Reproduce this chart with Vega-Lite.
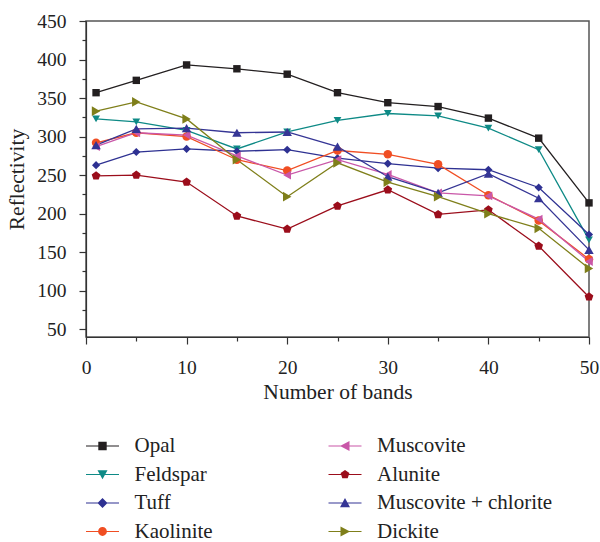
{
  "$schema": "https://vega.github.io/schema/vega-lite/v6.json",
  "width": 503,
  "height": 316,
  "autosize": {"type": "none"},
  "padding": {"left": 86, "top": 21, "right": 11, "bottom": 205},
  "config": {
    "font": "Liberation Serif",
    "view": {"stroke": "#555", "strokeWidth": 1.5},
    "axis": {"domainColor": "#333", "tickColor": "#333", "labelColor": "#222", "titleColor": "#222", "labelFont": "Liberation Serif", "titleFont": "Liberation Serif", "titleFontWeight": "normal", "grid": false},
    "legend": {"labelFont": "Liberation Serif", "labelColor": "#222", "labelLimit": 0}
  },
  "data": {
    "values": [
      {"band": 1, "mineral": "Opal", "value": 357}, {"band": 5, "mineral": "Opal", "value": 373}, {"band": 10, "mineral": "Opal", "value": 393}, {"band": 15, "mineral": "Opal", "value": 388}, {"band": 20, "mineral": "Opal", "value": 381}, {"band": 25, "mineral": "Opal", "value": 357}, {"band": 30, "mineral": "Opal", "value": 344}, {"band": 35, "mineral": "Opal", "value": 339}, {"band": 40, "mineral": "Opal", "value": 324}, {"band": 45, "mineral": "Opal", "value": 298}, {"band": 50, "mineral": "Opal", "value": 214},
      {"band": 1, "mineral": "Feldspar", "value": 323}, {"band": 5, "mineral": "Feldspar", "value": 319}, {"band": 10, "mineral": "Feldspar", "value": 308}, {"band": 15, "mineral": "Feldspar", "value": 284}, {"band": 20, "mineral": "Feldspar", "value": 306}, {"band": 25, "mineral": "Feldspar", "value": 321}, {"band": 30, "mineral": "Feldspar", "value": 330}, {"band": 35, "mineral": "Feldspar", "value": 327}, {"band": 40, "mineral": "Feldspar", "value": 311}, {"band": 45, "mineral": "Feldspar", "value": 283}, {"band": 50, "mineral": "Feldspar", "value": 166},
      {"band": 1, "mineral": "Tuff", "value": 263}, {"band": 5, "mineral": "Tuff", "value": 280}, {"band": 10, "mineral": "Tuff", "value": 284}, {"band": 15, "mineral": "Tuff", "value": 281}, {"band": 20, "mineral": "Tuff", "value": 283}, {"band": 25, "mineral": "Tuff", "value": 272}, {"band": 30, "mineral": "Tuff", "value": 265}, {"band": 35, "mineral": "Tuff", "value": 259}, {"band": 40, "mineral": "Tuff", "value": 257}, {"band": 45, "mineral": "Tuff", "value": 234}, {"band": 50, "mineral": "Tuff", "value": 173},
      {"band": 1, "mineral": "Kaolinite", "value": 292}, {"band": 5, "mineral": "Kaolinite", "value": 305}, {"band": 10, "mineral": "Kaolinite", "value": 300}, {"band": 15, "mineral": "Kaolinite", "value": 270}, {"band": 20, "mineral": "Kaolinite", "value": 256}, {"band": 25, "mineral": "Kaolinite", "value": 282}, {"band": 30, "mineral": "Kaolinite", "value": 277}, {"band": 35, "mineral": "Kaolinite", "value": 264}, {"band": 40, "mineral": "Kaolinite", "value": 224}, {"band": 45, "mineral": "Kaolinite", "value": 191}, {"band": 50, "mineral": "Kaolinite", "value": 141},
      {"band": 1, "mineral": "Muscovite", "value": 287}, {"band": 5, "mineral": "Muscovite", "value": 305}, {"band": 10, "mineral": "Muscovite", "value": 302}, {"band": 15, "mineral": "Muscovite", "value": 275}, {"band": 20, "mineral": "Muscovite", "value": 250}, {"band": 25, "mineral": "Muscovite", "value": 270}, {"band": 30, "mineral": "Muscovite", "value": 251}, {"band": 35, "mineral": "Muscovite", "value": 227}, {"band": 40, "mineral": "Muscovite", "value": 223}, {"band": 45, "mineral": "Muscovite", "value": 193}, {"band": 50, "mineral": "Muscovite", "value": 138},
      {"band": 1, "mineral": "Alunite", "value": 249}, {"band": 5, "mineral": "Alunite", "value": 250}, {"band": 10, "mineral": "Alunite", "value": 241}, {"band": 15, "mineral": "Alunite", "value": 197}, {"band": 20, "mineral": "Alunite", "value": 180}, {"band": 25, "mineral": "Alunite", "value": 210}, {"band": 30, "mineral": "Alunite", "value": 231}, {"band": 35, "mineral": "Alunite", "value": 199}, {"band": 40, "mineral": "Alunite", "value": 205}, {"band": 45, "mineral": "Alunite", "value": 158}, {"band": 50, "mineral": "Alunite", "value": 92},
      {"band": 1, "mineral": "Muscovite + chlorite", "value": 289}, {"band": 5, "mineral": "Muscovite + chlorite", "value": 310}, {"band": 10, "mineral": "Muscovite + chlorite", "value": 311}, {"band": 15, "mineral": "Muscovite + chlorite", "value": 305}, {"band": 20, "mineral": "Muscovite + chlorite", "value": 306}, {"band": 25, "mineral": "Muscovite + chlorite", "value": 287}, {"band": 30, "mineral": "Muscovite + chlorite", "value": 248}, {"band": 35, "mineral": "Muscovite + chlorite", "value": 227}, {"band": 40, "mineral": "Muscovite + chlorite", "value": 252}, {"band": 45, "mineral": "Muscovite + chlorite", "value": 220}, {"band": 50, "mineral": "Muscovite + chlorite", "value": 153},
      {"band": 1, "mineral": "Dickite", "value": 333}, {"band": 5, "mineral": "Dickite", "value": 345}, {"band": 10, "mineral": "Dickite", "value": 323}, {"band": 15, "mineral": "Dickite", "value": 270}, {"band": 20, "mineral": "Dickite", "value": 222}, {"band": 25, "mineral": "Dickite", "value": 266}, {"band": 30, "mineral": "Dickite", "value": 241}, {"band": 35, "mineral": "Dickite", "value": 222}, {"band": 40, "mineral": "Dickite", "value": 200}, {"band": 45, "mineral": "Dickite", "value": 181}, {"band": 50, "mineral": "Dickite", "value": 129}
    ]
  },
  "encoding": {
    "x": {
      "field": "band", "type": "quantitative",
      "scale": {"domain": [0, 50], "nice": false, "zero": false},
      "axis": {
        "title": "Number of bands", "titleFontSize": 21.5, "titlePadding": 5,
        "values": [0, 5, 10, 15, 20, 25, 30, 35, 40, 45, 50],
        "labelExpr": "datum.value % 10 === 0 ? datum.label : ''",
        "labelFontSize": 19.5, "labelPadding": 14, "labelFlush": false,
        "tickSize": {"condition": {"test": "datum.value % 10 === 0", "value": 7}, "value": 4},
        "domainWidth": 1.2, "tickWidth": 1.2
      }
    },
    "y": {
      "field": "value", "type": "quantitative",
      "scale": {"domain": [40, 450], "nice": false, "zero": false},
      "axis": {
        "title": "Reflectivity", "titleFontSize": 21.5, "titlePadding": 8,
        "values": [50, 75, 100, 125, 150, 175, 200, 225, 250, 275, 300, 325, 350, 375, 400, 425, 450],
        "labelExpr": "datum.value % 50 === 0 ? datum.label : ''",
        "labelFontSize": 19.5, "labelPadding": 13, "labelFlush": false,
        "tickSize": {"condition": {"test": "datum.value % 50 === 0", "value": 7}, "value": 4},
        "domainWidth": 1.2, "tickWidth": 1.2
      }
    }
  },
  "resolve": {"scale": {"color": "independent", "shape": "independent"}},
  "layer": [
    {
      "mark": {"type": "line", "strokeWidth": 1.3},
      "encoding": {
        "color": {
          "field": "mineral", "type": "nominal", "legend": null,
          "scale": {
            "domain": ["Opal", "Feldspar", "Tuff", "Kaolinite", "Muscovite", "Alunite", "Muscovite + chlorite", "Dickite"],
            "range": ["#231f20", "#0e8a86", "#2e3192", "#f04e23", "#c957a8", "#9b0d1b", "#353595", "#7f7f1a"]
          }
        }
      }
    },
    {
      "mark": {"type": "point", "filled": true, "opacity": 1},
      "encoding": {
        "color": {
          "field": "mineral", "type": "nominal", "legend": null,
          "scale": {
            "domain": ["Opal", "Feldspar", "Tuff", "Kaolinite", "Muscovite", "Alunite", "Muscovite + chlorite", "Dickite"],
            "range": ["#231f20", "#0e8a86", "#2e3192", "#f04e23", "#c957a8", "#9b0d1b", "#353595", "#7f7f1a"]
          }
        },
        "shape": {
          "field": "mineral", "type": "nominal", "legend": null,
          "scale": {
            "domain": ["Opal", "Feldspar", "Tuff", "Kaolinite", "Muscovite", "Alunite", "Muscovite + chlorite", "Dickite"],
            "range": ["square", "triangle-down", "diamond", "circle", "triangle-left", "M0,-1L0.951,-0.309L0.588,0.809L-0.588,0.809L-0.951,-0.309Z", "triangle-up", "triangle-right"]
          }
        },
        "size": {
          "field": "mineral", "type": "nominal", "legend": null,
          "scale": {
            "domain": ["Opal", "Feldspar", "Tuff", "Kaolinite", "Muscovite", "Alunite", "Muscovite + chlorite", "Dickite"],
            "range": [55, 95, 85, 70, 120, 90, 110, 125]
          }
        }
      }
    },
    {
      "mark": {"type": "point", "filled": true, "opacity": 0},
      "encoding": {
        "color": {
          "field": "mineral", "type": "nominal",
          "scale": {
            "domain": ["Opal", "Feldspar", "Tuff", "Kaolinite", "Muscovite", "Alunite", "Muscovite + chlorite", "Dickite"],
            "range": ["#231f20", "#0e8a86", "#2e3192", "#f04e23", "#c957a8", "#9b0d1b", "#353595", "#7f7f1a"]
          },
          "legend": {
            "title": null, "orient": "none", "legendX": 5.5, "legendY": 414,
            "columns": 2, "columnPadding": 111.5, "rowPadding": 7.5,
            "symbolSize": 400, "symbolOpacity": 1, "labelFontSize": 21, "labelOffset": 21, "labelLimit": 0
          }
        },
        "shape": {
          "field": "mineral", "type": "nominal",
          "scale": {
            "domain": ["Opal", "Feldspar", "Tuff", "Kaolinite", "Muscovite", "Alunite", "Muscovite + chlorite", "Dickite"],
            "range": [
              "M-1.65,-0.06H1.65V0.06H-1.65ZM-0.42,-0.42H0.42V0.42H-0.42Z",
              "M-1.65,-0.06H1.65V0.06H-1.65ZM-0.5,-0.42H0.5L0,0.47Z",
              "M-1.65,-0.06H1.65V0.06H-1.65ZM0,-0.5L0.5,0L0,0.5L-0.5,0Z",
              "M-1.65,-0.06H1.65V0.06H-1.65ZM-0.44,0A0.44,0.44,0,1,1,0.44,0A0.44,0.44,0,1,1,-0.44,0Z",
              "M-1.65,-0.06H1.65V0.06H-1.65ZM-0.5,0L0.45,-0.5V0.5Z",
              "M-1.65,-0.06H1.65V0.06H-1.65ZM0,-0.46L0.44,-0.14L0.27,0.37H-0.27L-0.44,-0.14Z",
              "M-1.65,-0.06H1.65V0.06H-1.65ZM0,-0.5L0.5,0.42H-0.5Z",
              "M-1.65,-0.06H1.65V0.06H-1.65ZM0.5,0L-0.45,0.5V-0.5Z"
            ]
          },
          "legend": {
            "title": null, "orient": "none", "legendX": 5.5, "legendY": 414,
            "columns": 2, "columnPadding": 111.5, "rowPadding": 7.5,
            "symbolSize": 400, "symbolOpacity": 1, "labelFontSize": 21, "labelOffset": 21, "labelLimit": 0
          }
        }
      }
    }
  ]
}
